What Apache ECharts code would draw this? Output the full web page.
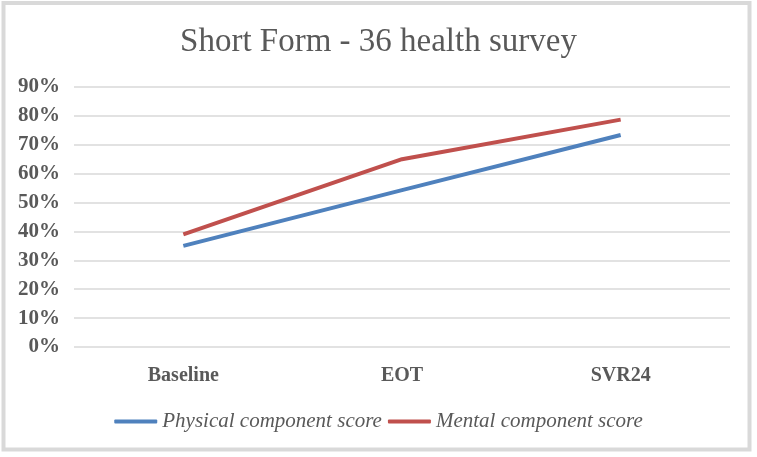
<!DOCTYPE html>
<html>
<head>
<meta charset="utf-8">
<script src="https://cdn.jsdelivr.net/npm/echarts@6/dist/echarts.min.js"></script>
<style>
html,body{margin:0;padding:0;background:#fff;}
#c{width:757px;height:457px;}
</style>
</head>
<body>
<div id="c"></div>
<script>
const categories = ['Baseline', 'EOT', 'SVR24'];
const physical = [35, 54.3, 73.4];
const mental = [39, 65, 78.7];
const yTicks = [0, 10, 20, 30, 40, 50, 60, 70, 80, 90];

const chart = echarts.init(document.getElementById('c'));
const serif = '"Liberation Serif", "DejaVu Serif", serif';
chart.setOption({
  animation: false,
  backgroundColor: '#fff',
  graphic: [{
    type: 'rect', silent: true, z: 100,
    shape: { x: 3.5, y: 3, width: 746, height: 446.5 },
    style: { fill: 'none', stroke: '#d9d9d9', lineWidth: 4 }
  }],
  title: {
    text: 'Short Form - 36 health survey',
    left: 'center', top: 21,
    textStyle: { fontFamily: serif, fontSize: 33, fontWeight: 'normal', color: '#595959' }
  },
  legend: {
    bottom: 20, left: 'center',
    itemWidth: 43, itemHeight: 4, itemGap: 6,
    icon: 'roundRect',
    textStyle: { fontFamily: serif, fontSize: 21, fontStyle: 'italic', color: '#595959', padding: [0, 0, 0, 0] },
    data: ['Physical component score', 'Mental component score']
  },
  grid: { left: 74, right: 27, top: 87, bottom: 110, containLabel: false },
  xAxis: {
    type: 'category', data: categories, boundaryGap: true,
    axisLine: { show: false }, axisTick: { show: false },
    axisLabel: { fontFamily: serif, fontSize: 20, fontWeight: 'bold', color: '#595959', margin: 19 }
  },
  yAxis: {
    type: 'value', min: 0, max: 90, interval: 10,
    axisLine: { show: false }, axisTick: { show: false },
    splitLine: { lineStyle: { color: '#d9d9d9', width: 1.5 } },
    axisLabel: {
      fontFamily: serif, fontSize: 21, fontWeight: 'bold', color: '#595959', margin: 14,
      formatter: v => yTicks.includes(v) ? v + '%' : ''
    }
  },
  series: [
    { name: 'Physical component score', type: 'line', data: physical,
      symbol: 'none', lineStyle: { color: '#4f81bd', width: 4 }, itemStyle: { color: '#4f81bd' } },
    { name: 'Mental component score', type: 'line', data: mental,
      symbol: 'none', lineStyle: { color: '#c0504d', width: 4 }, itemStyle: { color: '#c0504d' } }
  ]
});
</script>
</body>
</html>
